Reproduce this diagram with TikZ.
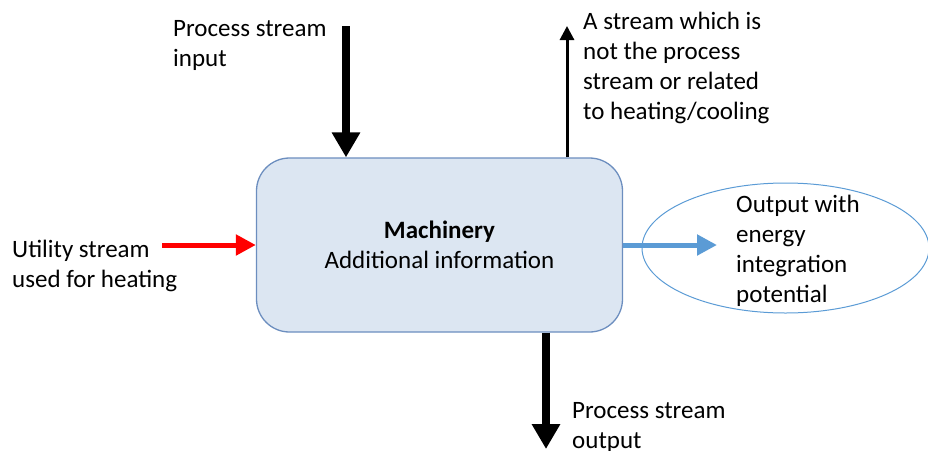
\documentclass[tikz,border=0pt]{standalone}
\usepackage{fontspec}
\setmainfont{Carlito}
\usetikzlibrary{arrows.meta,shapes.geometric}
\definecolor{boxfill}{HTML}{DCE6F2}
\definecolor{boxline}{HTML}{6C8EBF}
\definecolor{outblue}{HTML}{5B9BD5}
\definecolor{heatred}{HTML}{FF0000}

\begin{document}
\begin{tikzpicture}[x=1pt,y=-1pt,
  box node/.style={draw=boxline,fill=boxfill,rounded corners=33pt,line width=1.3pt,minimum width=366pt,minimum height=174pt,align=center,font=\fontsize{25}{30}\selectfont},
  text node/.style={align=left,anchor=base west,inner sep=0pt,font=\fontsize{25}{30}\selectfont},
  main arrow/.style={line width=8pt,-{Triangle[length=25pt,width=27pt]}},
  thin arrow/.style={line width=3pt,-{Triangle[length=14pt,width=14pt]}},
  side arrow/.style={line width=5pt,-{Triangle[length=20pt,width=20pt]}}]

  \useasboundingbox (0,0) rectangle (928,450);

  % the unit and where its streams go
  \node[box node] (machine) at (439.5,245) {\textbf{Machinery}\\Additional information};
  \node[ellipse,draw=outblue,line width=1pt,minimum width=287pt,minimum height=130pt,inner sep=0pt] (pinch) at (785.5,248) {};

  \coordinate (feedIn) at (346,26);
  \coordinate (feedOut) at (546,449);
  \coordinate (otherOut) at (567,26);
  \coordinate (utilIn) at (162,245);
  \coordinate (pinchIn) at (717,245);

  \draw[main arrow] (feedIn) -- (feedIn |- machine.north);
  \draw[main arrow] (feedOut |- machine.south) -- (feedOut);
  \draw[thin arrow] (otherOut |- machine.north) -- (otherOut);
  \draw[side arrow,heatred] (utilIn) -- (machine.west);
  \draw[side arrow,outblue] (machine.east) -- (pinchIn);

  % labels, placed by the baseline of their last line
  \node[text node] (feedInText) at (173,66) {Process stream\\input};
  \node[text node] (otherText) at (583,119) {A stream which is\\not the process\\stream or related\\to heating/cooling};
  \node[text node] (utilText) at (12,287) {Utility stream\\used for heating};
  \node[text node] (pinchText) at (736,302) {Output with\\energy\\integration\\potential};
  \node[text node] (feedOutText) at (572,448) {Process stream\\output};
\end{tikzpicture}
\end{document}
